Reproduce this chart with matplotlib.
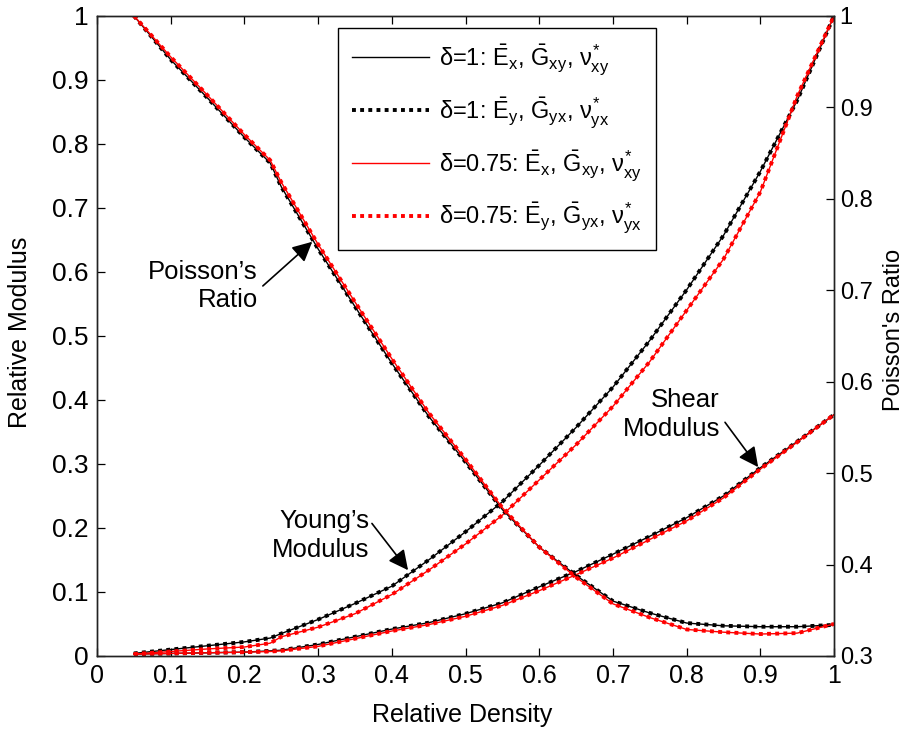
import numpy as np
import matplotlib
matplotlib.use("Agg")
import matplotlib.pyplot as plt

plt.rcParams['font.family'] = ['Liberation Sans', 'DejaVu Sans']
plt.rcParams['mathtext.fontset'] = 'custom'
plt.rcParams['mathtext.rm'] = 'Liberation Sans'
plt.rcParams['mathtext.it'] = 'Liberation Sans'
plt.rcParams['mathtext.bf'] = 'Liberation Sans:bold'

# ---- data ----
density = [0.05, 0.10, 0.15, 0.20, 0.235, 0.25, 0.30, 0.35, 0.40, 0.45, 0.50,
           0.55, 0.60, 0.65, 0.70, 0.75, 0.80, 0.85, 0.90, 0.95, 1.00]

# delta = 1
young_d1 = [0.004, 0.010, 0.016, 0.022, 0.028, 0.035, 0.057, 0.082, 0.109, 0.150, 0.194,
            0.241, 0.298, 0.357, 0.420, 0.493, 0.572, 0.657, 0.757, 0.868, 1.000]
shear_d1 = [0.003, 0.004, 0.005, 0.006, 0.008, 0.009, 0.018, 0.030, 0.042, 0.052, 0.066,
            0.083, 0.108, 0.132, 0.159, 0.187, 0.216, 0.250, 0.294, 0.335, 0.377]
poisson_d1 = [1.000, 0.952, 0.910, 0.867, 0.839, 0.813, 0.745, 0.682, 0.620, 0.562, 0.512,
              0.460, 0.419, 0.388, 0.360, 0.347, 0.336, 0.333, 0.332, 0.332, 0.334]

# delta = 0.75
young_d075 = [0.003, 0.007, 0.011, 0.014, 0.020, 0.030, 0.045, 0.066, 0.096, 0.134, 0.175,
              0.220, 0.275, 0.330, 0.390, 0.460, 0.540, 0.620, 0.725, 0.875, 1.000]
shear_d075 = [0.003, 0.004, 0.005, 0.006, 0.007, 0.008, 0.015, 0.027, 0.039, 0.049, 0.062,
              0.079, 0.102, 0.127, 0.153, 0.182, 0.211, 0.247, 0.292, 0.334, 0.377]
poisson_d075 = [1.000, 0.955, 0.913, 0.870, 0.842, 0.818, 0.750, 0.687, 0.625, 0.566, 0.515,
                0.462, 0.419, 0.386, 0.357, 0.342, 0.329, 0.326, 0.324, 0.325, 0.335]

labels = [r"δ=1: $\bar{E}_{x}$, $\bar{G}_{xy}$, $\nu^{*}_{xy}$",
          r"δ=1: $\bar{E}_{y}$, $\bar{G}_{yx}$, $\nu^{*}_{yx}$",
          r"δ=0.75: $\bar{E}_{x}$, $\bar{G}_{xy}$, $\nu^{*}_{xy}$",
          r"δ=0.75: $\bar{E}_{y}$, $\bar{G}_{yx}$, $\nu^{*}_{yx}$"]

# ---- plot ----
fig = plt.figure(figsize=(9.1, 7.3), dpi=100)
ax = fig.add_axes([0.1066, 0.1014, 0.810, 0.877])
ax2 = ax.twinx()

dot = (0, (1, 1.1))
styles = [('k', '-', 1.0), ('k', dot, 2.8), ('r', '-', 1.0), ('r', dot, 2.8)]
sets = [(young_d1, shear_d1, poisson_d1), (young_d1, shear_d1, poisson_d1),
        (young_d075, shear_d075, poisson_d075), (young_d075, shear_d075, poisson_d075)]

handles = []
for (c, ls, lw), (yg, sh, po), lab in zip(styles, sets, labels):
    h, = ax.plot(density, yg, color=c, ls=ls, lw=lw, label=lab)
    ax.plot(density, sh, color=c, ls=ls, lw=lw)
    ax2.plot(density, po, color=c, ls=ls, lw=lw)
    handles.append(h)

ax.set_xlim(0, 1)
ax.set_ylim(0, 1)
ax2.set_ylim(0.3, 1)

ticks = np.round(np.arange(0, 1.01, 0.1), 1)
tick_txt = ['0'] + ['%.1f' % t for t in ticks[1:-1]] + ['1']
ax.set_xticks(ticks)
ax.set_xticklabels(tick_txt)
ax.set_yticks(ticks)
ax.set_yticklabels(tick_txt)
rticks = np.round(np.arange(0.3, 1.01, 0.1), 1)
ax2.set_yticks(rticks)
ax2.set_yticklabels(['%.1f' % t for t in rticks[:-1]] + ['1'])

ax.tick_params(direction='in', length=6, width=0.9, top=True, pad=6)
ax.tick_params(axis='x', labelsize=18)
ax.tick_params(axis='y', labelsize=19)
ax2.tick_params(direction='in', length=6, width=0.9, labelsize=17, pad=4)
for a in (ax, ax2):
    for s in a.spines.values():
        s.set_linewidth(1.0)
        s.set_color('#222222')

ax.set_xlabel('Relative Density', fontsize=18)
ax.set_ylabel('Relative Modulus', fontsize=18)
ax2.set_ylabel("Poisson's Ratio", fontsize=17)
ax.xaxis.set_label_coords(0.495, -0.073)
ax.yaxis.set_label_coords(-0.088, 0.505)
ax2.yaxis.set_label_coords(1.066, 0.509)

# annotations
arrow = dict(arrowstyle='-|>', color='k', lw=1.2, mutation_scale=30, shrinkA=0, shrinkB=0)
ax.text(0.218, 0.578, "Poisson’s\nRatio", fontsize=18.5, ha='right', va='center', linespacing=1.25)
ax.annotate('', xy=(0.292, 0.647), xytext=(0.225, 0.578), arrowprops=arrow)
ax.text(0.370, 0.188, "Young’s\nModulus", fontsize=18.5, ha='right', va='center', linespacing=1.25)
ax.annotate('', xy=(0.422, 0.134), xytext=(0.373, 0.207), arrowprops=arrow)
ax.text(0.845, 0.377, "Shear\nModulus", fontsize=18.5, ha='right', va='center', linespacing=1.25)
ax.annotate('', xy=(0.897, 0.295), xytext=(0.852, 0.365), arrowprops=arrow)

leg = ax2.legend(handles, labels, loc='upper left', bbox_to_anchor=(338 / 910, 1 - 28 / 730),
                 bbox_transform=fig.transFigure, borderaxespad=0, fontsize=17,
                 handlelength=3.26, handletextpad=0.42, labelspacing=0.78, borderpad=0.6,
                 fancybox=False, framealpha=1, edgecolor='k')
leg.get_frame().set_linewidth(1.0)

plt.savefig('out.png', dpi=100)
